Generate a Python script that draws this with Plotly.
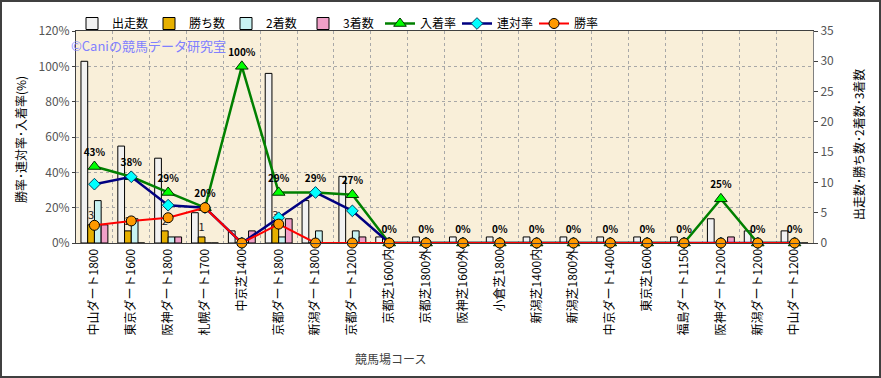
import plotly.graph_objects as go

categories = ["中山ダート1800", "東京ダート1600", "阪神ダート1800", "札幌ダート1700", "中京芝1400",
              "京都ダート1800", "新潟ダート1800", "京都ダート1200", "京都芝1600内", "京都芝1800外",
              "阪神芝1600外", "小倉芝1800", "新潟芝1400内", "新潟芝1800外", "中京ダート1400",
              "東京芝1600", "福島ダート1150", "阪神ダート1200", "新潟ダート1200", "中山ダート1200"]
runs = [30, 16, 14, 5, 2, 28, 7, 11, 1, 1, 1, 1, 1, 1, 1, 1, 1, 4, 2, 2]
wins = [3, 2, 2, 1, 0, 3, 0, 0, 0, 0, 0, 0, 0, 0, 0, 0, 0, 0, 0, 0]
seconds = [7, 4, 1, 0, 0, 1, 2, 2, 0, 0, 0, 0, 0, 0, 0, 0, 0, 0, 0, 0]
thirds = [3, 0, 1, 0, 2, 4, 0, 1, 0, 0, 0, 0, 0, 0, 0, 0, 0, 1, 0, 0]
place_rate = [43.3, 37.5, 28.6, 20.0, 100.0, 28.6, 28.6, 27.3, 0, 0, 0, 0, 0, 0, 0, 0, 0, 25.0, 0, 0]
quinella_rate = [33.3, 37.5, 21.4, 20.0, 0, 14.3, 28.6, 18.2, 0, 0, 0, 0, 0, 0, 0, 0, 0, 0, 0, 0]
win_rate = [10.0, 12.5, 14.3, 20.0, 0, 10.7, 0, 0, 0, 0, 0, 0, 0, 0, 0, 0, 0, 0, 0, 0]

FONT = "Noto Sans CJK JP"
W, H = 881, 378
L, R, T, B = 76, 68, 31, 135
PW, PH = W - L - R, H - T - B

def px(x):
    return (x - L) / PW

def py(y):
    return (H - B - y) / PH

fig = go.Figure()
outline = dict(color="#000000", width=1)
# counts on the base axis (y, drawn on the right); rates on the overlaying axis (y2, left) so lines sit on top
fig.add_trace(go.Bar(x=categories, y=runs, name="出走数", yaxis="y",
                     marker=dict(color="#f2f2f2", line=outline)))
fig.add_trace(go.Bar(x=categories, y=wins, name="勝ち数", yaxis="y",
                     marker=dict(color="#e6b000", line=outline),
                     text=[str(v) if v else "" for v in wins], textposition="outside",
                     constraintext="none", cliponaxis=False,
                     textfont=dict(size=11, color="#202020", family=FONT)))
fig.add_trace(go.Bar(x=categories, y=seconds, name="2着数", yaxis="y",
                     marker=dict(color="#c8f2f2", line=outline)))
fig.add_trace(go.Bar(x=categories, y=thirds, name="3着数", yaxis="y",
                     marker=dict(color="#f0a0c8", line=outline)))
fig.add_trace(go.Scatter(x=categories, y=place_rate, name="入着率", mode="lines+markers+text",
                         yaxis="y2",
                         line=dict(color="#008000", width=2.5),
                         marker=dict(symbol="triangle-up", size=11, color="#00ff00",
                                     line=dict(color="#003000", width=1)),
                         text=[f"{round(v)}%" for v in place_rate], textposition="top center",
                         textfont=dict(size=10, color="#000000", family=FONT, weight="bold"),
                         cliponaxis=False))
fig.add_trace(go.Scatter(x=categories, y=quinella_rate, name="連対率", mode="lines+markers",
                         yaxis="y2",
                         line=dict(color="#000080", width=2.5),
                         marker=dict(symbol="diamond", size=9, color="#00ffff",
                                     line=dict(color="#004060", width=1)),
                         cliponaxis=False))
fig.add_trace(go.Scatter(x=categories, y=win_rate, name="勝率", mode="lines+markers",
                         yaxis="y2",
                         line=dict(color="#ff0000", width=2),
                         marker=dict(symbol="circle", size=10, color="#ff9900",
                                     line=dict(color="#000000", width=1)),
                         cliponaxis=False))

fig.update_layout(
    width=W, height=H,
    margin=dict(l=L, r=R, t=T, b=B, autoexpand=False),
    paper_bgcolor="#ffffff", plot_bgcolor="#f9efd9",
    font=dict(family=FONT, size=12, color="#000000"),
    barmode="group", bargap=0.27, bargroupgap=0,
    hovermode=False,
    showlegend=True,
    legend=dict(orientation="h", x=px(72), y=py(9), xanchor="left", yanchor="top",
                font=dict(size=12, family=FONT), bgcolor="rgba(0,0,0,0)",
                itemwidth=30, tracegroupgap=0, entrywidth=32, entrywidthmode="pixels"),
    xaxis=dict(type="category", tickson="boundaries", tickangle=-90,
               showgrid=True, gridcolor="#a8a8a8", griddash="dot", gridwidth=1,
               showline=True, linecolor="#404040", linewidth=1, mirror=True,
               ticks="", tickfont=dict(size=12, color="#000000"), range=[-0.5, 19.5]),
    yaxis2=dict(range=[0, 120], dtick=20, ticksuffix="%", showgrid=True,
                overlaying="y", side="left",
                gridcolor="#a8a8a8", griddash="dot", gridwidth=1,
                showline=True, linecolor="#404040", linewidth=1, zeroline=False,
                ticks="outside", ticklen=3, tickcolor="#404040",
                tickfont=dict(size=12, color="#555555")),
    yaxis=dict(range=[0, 35], dtick=5, side="right", showgrid=False,
               showline=True, linecolor="#808080", linewidth=1, zeroline=False,
               ticks="outside", ticklen=4, tickcolor="#404040",
               tickfont=dict(size=12, color="#555555")),
    shapes=[dict(type="rect", xref="paper", yref="paper",
                 x0=px(1), x1=px(W - 1), y0=py(H - 1), y1=py(1),
                 line=dict(color="#404040", width=2), fillcolor="rgba(0,0,0,0)", layer="below")],
    annotations=[
        dict(text="©Caniの競馬データ研究室", xref="paper", yref="paper", x=px(69), y=py(45),
             xanchor="left", yanchor="middle", showarrow=False,
             font=dict(size=13, color="#8080ff", family=FONT)),
        dict(text="勝率･連対率･入着率(%)", xref="paper", yref="paper", x=px(20), y=py(140),
             xanchor="center", yanchor="middle", textangle=-90, showarrow=False,
             font=dict(size=12, color="#000000", family=FONT)),
        dict(text="出走数･勝ち数･2着数･3着数", xref="paper", yref="paper", x=px(858), y=py(145),
             xanchor="center", yanchor="middle", textangle=-90, showarrow=False,
             font=dict(size=12, color="#000000", family=FONT)),
        dict(text="競馬場コース", xref="paper", yref="paper", x=px(390), y=py(358),
             xanchor="center", yanchor="middle", showarrow=False,
             font=dict(size=12, color="#404040", family=FONT)),
    ],
)

fig.write_html("out.html", config={"displayModeBar": False},
               post_script="document.body.style.margin='0px';")
